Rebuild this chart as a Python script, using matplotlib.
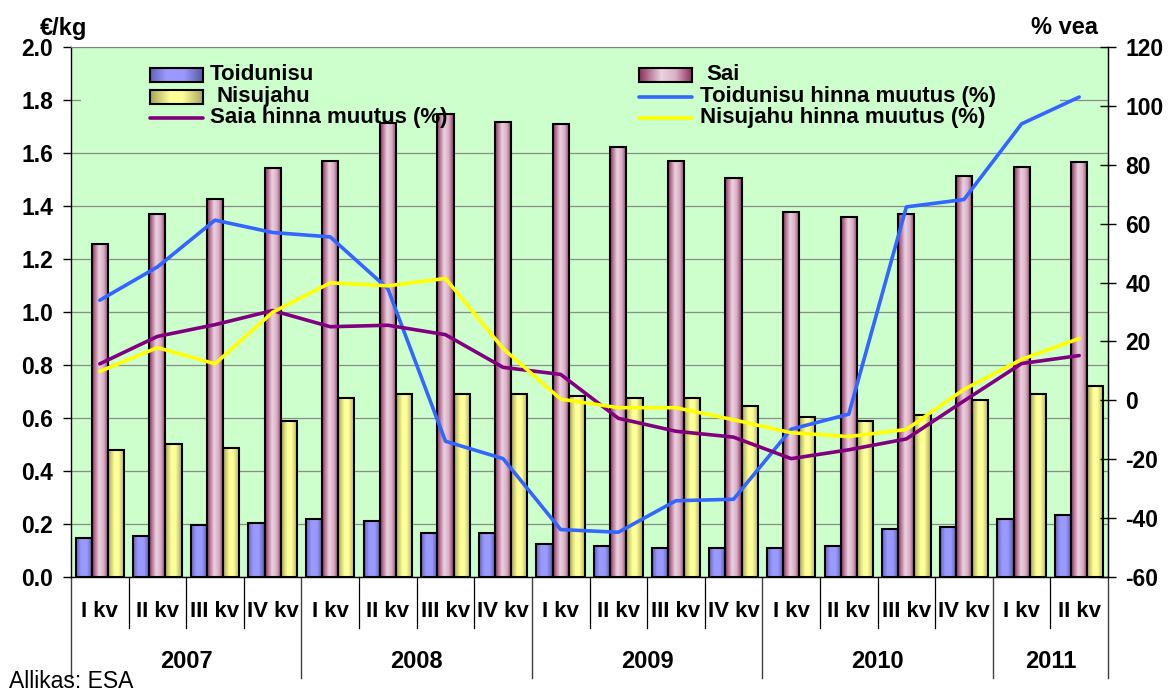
import numpy as np
import matplotlib
matplotlib.use("Agg")
import matplotlib.pyplot as plt
from matplotlib.colors import LinearSegmentedColormap
from matplotlib.patches import Rectangle
import matplotlib.transforms as mtransforms

plt.rcParams['font.family'] = ['Liberation Sans', 'DejaVu Sans']

# ---------------- data ----------------
quarters = ['I kv', 'II kv', 'III kv', 'IV kv',
            'I kv', 'II kv', 'III kv', 'IV kv',
            'I kv', 'II kv', 'III kv', 'IV kv',
            'I kv', 'II kv', 'III kv', 'IV kv',
            'I kv', 'II kv']
years = ['2007', '2008', '2009', '2010', '2011']
year_counts = [4, 4, 4, 4, 2]

toidunisu = [0.146, 0.153, 0.197, 0.204, 0.219, 0.212, 0.167, 0.167, 0.123,
             0.116, 0.110, 0.110, 0.110, 0.116, 0.181, 0.189, 0.218, 0.234]
sai = [1.257, 1.368, 1.426, 1.542, 1.571, 1.715, 1.746, 1.717, 1.709,
       1.621, 1.571, 1.506, 1.376, 1.360, 1.368, 1.512, 1.549, 1.565]
nisujahu = [0.479, 0.502, 0.487, 0.588, 0.676, 0.691, 0.691, 0.691, 0.682,
            0.676, 0.676, 0.647, 0.603, 0.589, 0.611, 0.669, 0.690, 0.719]

toidunisu_chg = [34.0, 45.3, 61.2, 57.0, 55.5, 37.9, -13.9, -19.8, -43.9,
                 -44.8, -34.1, -33.6, -9.8, -4.7, 65.7, 68.2, 93.9, 103.0]
saia_chg = [12.4, 21.7, 25.7, 30.5, 25.0, 25.5, 22.3, 11.2, 8.8,
            -6.1, -10.5, -12.5, -19.8, -16.8, -13.1, -0.2, 12.5, 15.2]
nisujahu_chg = [9.8, 17.9, 12.4, 29.9, 39.9, 38.9, 41.4, 17.6, 0.4,
                -2.5, -2.5, -6.6, -11.0, -12.3, -9.9, 3.7, 13.9, 21.0]

# ---------------- styles ----------------
W, H = 1171, 695
BG = '#CCFFCC'
cm_blue = LinearSegmentedColormap.from_list('b', [(0, '#6262B4'), (0.3, '#9999FF'), (0.65, '#9999FF'), (1, '#5858A0')])
cm_pink = LinearSegmentedColormap.from_list('p', [(0, '#8E2D5E'), (0.42, '#EBD3E0'), (0.7, '#D8AFC4'), (1, '#8E2D5E')])
cm_yel = LinearSegmentedColormap.from_list('y', [(0, '#A3A356'), (0.38, '#FFFF99'), (0.62, '#FFFF99'), (1, '#A8A85C')])
c_line_blue = '#3366FF'
c_line_purple = '#800080'
c_line_yellow = '#FFFF00'
BOLD = dict(fontweight='bold', color='black')
TICK_FS = 16.5
LEG_FS = 16

fig = plt.figure(figsize=(W / 100, H / 100), dpi=100)
ax = fig.add_axes([71 / W, 118 / H, 1037 / W, 530 / H])
ax.set_facecolor(BG)

n = len(quarters)
x = np.arange(n)
bw = 0.28

grad = np.linspace(0, 1, 128).reshape(1, -1)


def gradient_bars(xs, vals, cmap):
    bars = ax.bar(xs, vals, width=bw, facecolor='none', edgecolor='black',
                  linewidth=1.5, zorder=3)
    for b in bars:
        x0, y0, w, h = b.get_x(), b.get_y(), b.get_width(), b.get_height()
        ax.imshow(grad, extent=[x0, x0 + w, y0, y0 + h], aspect='auto',
                  cmap=cmap, interpolation='bilinear', zorder=2.9)
    return bars


gradient_bars(x - bw, toidunisu, cm_blue)
gradient_bars(x, sai, cm_pink)
gradient_bars(x + bw, nisujahu, cm_yel)

ax.set_xlim(-0.5, n - 0.5)
ax.set_ylim(0, 2.0)
ax.set_yticks(np.arange(0, 2.01, 0.2))
ax.set_yticklabels([f'{v:.1f}' for v in np.arange(0, 2.01, 0.2)], fontsize=TICK_FS, fontweight='bold')
ax.yaxis.grid(True, color='#8C8C8C', linewidth=0.9)
ax.set_axisbelow(True)
ax.tick_params(axis='y', direction='out', length=5.8, width=1.0, pad=7, colors='black')
ax.tick_params(axis='x', length=0, labelbottom=False)
for s in ['left', 'bottom', 'right']:
    ax.spines[s].set_color('black')
    ax.spines[s].set_linewidth(1.0)
ax.spines['top'].set_color('#808080')

# mask behind legend (hides gridline there)
ax.add_patch(Rectangle((10 / 1037, (577 - 136) / 530), (1060 - 81) / 1037, 78 / 530,
                       transform=ax.transAxes, facecolor=BG, edgecolor='none', zorder=0.8))

# secondary axis with lines
ax2 = ax.twinx()
ax2.plot(x, toidunisu_chg, color=c_line_blue, lw=2.6, solid_capstyle='round', zorder=3)
ax2.plot(x, saia_chg, color=c_line_purple, lw=2.6, solid_capstyle='round', zorder=4)
ax2.plot(x, nisujahu_chg, color=c_line_yellow, lw=2.6, solid_capstyle='round', zorder=5)
ax2.set_ylim(-60, 120)
ax2.set_yticks(np.arange(-60, 121, 20))
ax2.set_yticklabels([str(v) for v in range(-60, 121, 20)], fontsize=TICK_FS, fontweight='bold')
ax2.tick_params(axis='y', direction='inout', length=11, width=1.0, pad=7, colors='black')
for s in ['left', 'bottom', 'top']:
    ax2.spines[s].set_visible(False)
ax2.spines['right'].set_color('black')
ax2.set_xlim(-0.5, n - 0.5)

# category axis (two levels)
trans = mtransforms.blended_transform_factory(ax.transData, ax.transAxes)
year_bounds = np.concatenate([[0], np.cumsum(year_counts)])
for k in range(n + 1):
    if k in year_bounds:
        ax.plot([k - 0.5, k - 0.5], [0, -0.19], transform=trans, clip_on=False,
                color='#404040', lw=1.0)
    else:
        ax.plot([k - 0.5, k - 0.5], [0, -0.096], transform=trans, clip_on=False,
                color='black', lw=0.9)
for i, q in enumerate(quarters):
    ax.text(i, -0.066, q, transform=trans, ha='center', va='center', fontsize=16, **BOLD)
for j, yr in enumerate(years):
    cx = (year_bounds[j] + year_bounds[j + 1]) / 2 - 0.5
    ax.text(cx, -0.160, yr, transform=trans, ha='center', va='center', fontsize=17, **BOLD)

# axis titles & source
fig.text(40 / W, 1 - 28 / H, '€/kg', ha='left', va='center', fontsize=17, **BOLD)
fig.text(1098 / W, 1 - 27 / H, '% vea', ha='right', va='center', fontsize=17, **BOLD)
fig.text(9 / W, 1 - 681 / H, 'Allikas: ESA', ha='left', va='center', fontsize=16.5, color='black')

# manual legend
def leg_patch(px, py, cmap):
    a = fig.add_axes([px / W, 1 - (py + 7) / H, 53 / W, 14 / H])
    a.imshow(grad, aspect='auto', cmap=cmap, interpolation='bilinear')
    a.set_xticks([]); a.set_yticks([])
    for s in a.spines.values():
        s.set_linewidth(1.5); s.set_color('black')


def leg_line(px, py, color):
    fig.add_artist(plt.Line2D([px / W, (px + 53) / W], [1 - py / H, 1 - py / H],
                              color=color, lw=2.6, solid_capstyle='round'))


rows = [75, 96.5, 118]
leg_patch(150, rows[0], cm_blue)
fig.text(210 / W, 1 - rows[0] / H, 'Toidunisu', ha='left', va='center', fontsize=LEG_FS, **BOLD)
leg_patch(150, rows[1], cm_yel)
fig.text(216 / W, 1 - rows[1] / H, 'Nisujahu', ha='left', va='center', fontsize=LEG_FS, **BOLD)
leg_line(150, rows[2], c_line_purple)
fig.text(210 / W, 1 - rows[2] / H, 'Saia hinna muutus (%)', ha='left', va='center', fontsize=LEG_FS, **BOLD)

leg_patch(639, rows[0], cm_pink)
fig.text(706 / W, 1 - rows[0] / H, 'Sai', ha='left', va='center', fontsize=LEG_FS, **BOLD)
leg_line(639, rows[1], c_line_blue)
fig.text(700 / W, 1 - rows[1] / H, 'Toidunisu hinna muutus (%)', ha='left', va='center', fontsize=LEG_FS, **BOLD)
leg_line(639, rows[2], c_line_yellow)
fig.text(700 / W, 1 - rows[2] / H, 'Nisujahu hinna muutus (%)', ha='left', va='center', fontsize=LEG_FS, **BOLD)

fig.savefig('out.png', dpi=100, facecolor='white')
